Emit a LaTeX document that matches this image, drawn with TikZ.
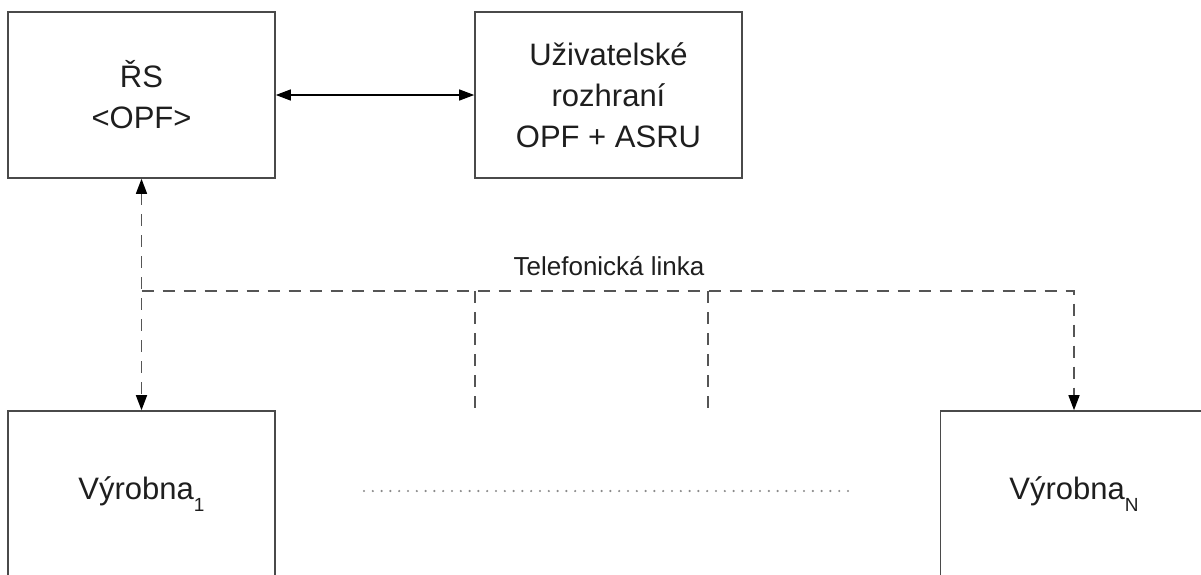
\documentclass[tikz,border=0pt]{standalone}
\usepackage{fontspec}
\setmainfont{Liberation Sans}
\usetikzlibrary{arrows.meta}
\definecolor{boxgray}{HTML}{4A4A4A}
\definecolor{linkgray}{HTML}{555555}
\definecolor{textdark}{HTML}{1E1E1E}
\definecolor{dotgray}{HTML}{8A8A8A}
\newcommand{\lowidx}[1]{\raisebox{-12pt}{\fontsize{19}{19}\selectfont #1}}
\begin{document}
\begin{tikzpicture}[x=1pt,y=-1pt,
  box/.style={draw=boxgray, line width=1.6pt, minimum width=267pt,
    minimum height=166pt, inner sep=0pt, align=center,
    font=\fontsize{31}{41}\selectfont, text=textdark},
  link/.style={draw=linkgray, line width=1.5pt, dash pattern=on 12pt off 9pt},
  tipend/.style={-{Triangle[length=15pt,width=11pt,color=black]}},
  tipboth/.style={{Triangle[length=15pt,width=11pt,color=black]}-{Triangle[length=15pt,width=11pt,color=black]}},
  dotline/.style={draw=dotgray, line width=2.4pt, line cap=round, dash pattern=on 0pt off 8.8pt}]
\useasboundingbox (0,0) rectangle (1201,574);
\clip (0,0) rectangle (1201,574);

% blocks
\node[box] (rs) at (141.5,95) {ŘS\\<OPF>};
\node[box] (ui) at (608.5,95) {Uživatelské\\rozhraní\\OPF + ASRU};
\node[box] (v1) at (141.5,494) {Výrobna\lowidx{1}};
\node[box] (vn) at (1074,494) {Výrobna\lowidx{N}};

% control centre <-> user interface
\draw[tipboth, black, line width=1.3pt] (rs.east) -- (ui.west);

% telephone line
\coordinate (j0) at (141.5,291);
\coordinate (jn) at (1074,291);
\coordinate (s1) at (475,291);
\coordinate (s1e) at (475,410);
\coordinate (s2) at (708,291);
\coordinate (s2e) at (708,410);
\draw[link, tipboth] (rs.south) -- (v1.north);
\draw[link, tipend] (j0) -- (jn) -- (vn.north);
\draw[link] (s1) -- (s1e);
\draw[link] (s2) -- (s2e);
\node[anchor=base, text=textdark, font=\fontsize{26}{26}\selectfont] (tl) at (609,275) {Telefonická linka};

% further plants
\coordinate (d1) at (364,491);
\coordinate (d2) at (849,491);
\draw[dotline] (d1) -- (d2);
\end{tikzpicture}
\end{document}
